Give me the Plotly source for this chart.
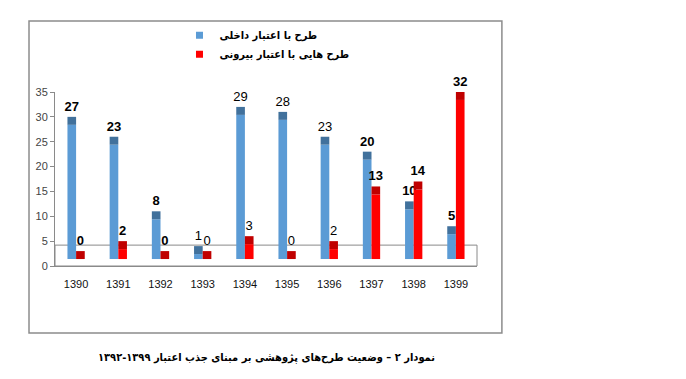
import plotly.graph_objects as go

years = ["1390", "1391", "1392", "1393", "1394", "1395", "1396", "1397", "1398", "1399"]
internal = [27, 23, 8, 1, 29, 28, 23, 20, 10, 5]
external = [0, 2, 0, 0, 3, 0, 2, 13, 14, 32]
name_internal = "طرح با اعتبار داخلی"
name_external = "طرح هایی با اعتبار بیرونی"
caption = "نمودار ۲ – وضعیت طرح‌های پژوهشی بر مبنای جذب اعتبار ۱۳۹۹-۱۳۹۲"
y_ticks = [0, 5, 10, 15, 20, 25, 30, 35]

# 3D-look styling constants (floor lift and top-face depth)
FLOOR = 1.4
CAP = 1.6
bold_years = {"1390", "1391", "1392", "1397", "1398", "1399"}

def lbl(vals):
    return [f"<b>{v}</b>" if y in bold_years else str(v) for y, v in zip(years, vals)]

BLUE, BLUE_CAP = "#5B9BD5", "#41719C"
RED, RED_CAP = "#FF0000", "#C00000"
label_font = dict(family="Liberation Sans Narrow, Arial Narrow, Liberation Sans, Arial", size=13, color="#000")
fa_font = "DejaVu Sans Condensed, DejaVu Sans"

fig = go.Figure()
fig.add_trace(go.Bar(x=years, y=internal, base=[FLOOR] * len(years), name=name_internal,
                     marker=dict(color=BLUE, line=dict(width=0)), offsetgroup="a", showlegend=False))
fig.add_trace(go.Bar(x=years, y=[CAP] * len(years), base=[FLOOR + v for v in internal],
                     marker=dict(color=BLUE_CAP, line=dict(width=0)), offsetgroup="a", showlegend=False,
                     text=lbl(internal), textposition="outside", outsidetextfont=label_font,
                     constraintext="none", cliponaxis=False, hoverinfo="skip"))
fig.add_trace(go.Bar(x=years, y=external, base=[FLOOR] * len(years), name=name_external,
                     marker=dict(color=RED, line=dict(width=0)), offsetgroup="b", showlegend=False))
fig.add_trace(go.Bar(x=years, y=[CAP] * len(years), base=[FLOOR + v for v in external],
                     marker=dict(color=RED_CAP, line=dict(width=0)), offsetgroup="b", showlegend=False,
                     text=lbl(external), textposition="outside", outsidetextfont=label_font,
                     constraintext="none", cliponaxis=False, hoverinfo="skip"))
# legend entries (small square swatches)
fig.add_trace(go.Scatter(x=[None], y=[None], mode="markers", name=name_internal,
                         marker=dict(symbol="square", size=7, color=BLUE)))
fig.add_trace(go.Scatter(x=[None], y=[None], mode="markers", name=name_external,
                         marker=dict(symbol="square", size=7, color=RED)))

# page body has an 8px default margin: shift the figure up/left by 8px
L, T = 47, 84
PW, PH = 422, 174
fig.update_layout(
    width=686, height=379,
    margin=dict(l=L, r=686 - L - PW, t=T, b=379 - T - PH),
    paper_bgcolor="white", plot_bgcolor="white",
    barmode="group", bargap=0.59, bargroupgap=0,
    font=dict(family="Liberation Sans, Arial", color="#333"),
    legend=dict(x=0.295, y=1.41, xanchor="left", yanchor="top", orientation="v",
                font=dict(family=fa_font, size=11, color="#000", weight="bold"),
                bgcolor="rgba(0,0,0,0)", itemwidth=30, tracegroupgap=0),
    xaxis=dict(showline=True, linecolor="#8a8a8a", linewidth=1, ticks="", showgrid=False,
               tickfont=dict(size=11, color="#111", family="Liberation Sans, Arial"),
               ticklabelstandoff=8),
    yaxis=dict(range=[0, 35], tickvals=y_ticks, showline=True, linecolor="#8a8a8a", linewidth=1,
               ticks="outside", ticklen=4, tickcolor="#8a8a8a", showgrid=False, zeroline=False,
               tickfont=dict(size=11, color="#444")),
    shapes=[
        dict(type="rect", xref="paper", yref="y", x0=0, x1=1, y0=0, y1=4.2,
             line=dict(color="#8a8a8a", width=1), fillcolor="rgba(0,0,0,0)", layer="below"),
        dict(type="rect", xref="paper", yref="paper", x0=-0.0616, x1=1.059, y0=-0.385, y1=1.408,
             line=dict(color="#8c8c8c", width=1.5), fillcolor="rgba(0,0,0,0)", layer="below"),
    ],
    annotations=[
        dict(text=caption, xref="paper", yref="paper", x=0.5, y=-0.523, xanchor="center", yanchor="middle",
             showarrow=False, font=dict(family=fa_font, size=11, color="#000", weight="bold")),
    ],
)

fig.write_html("out.html")
